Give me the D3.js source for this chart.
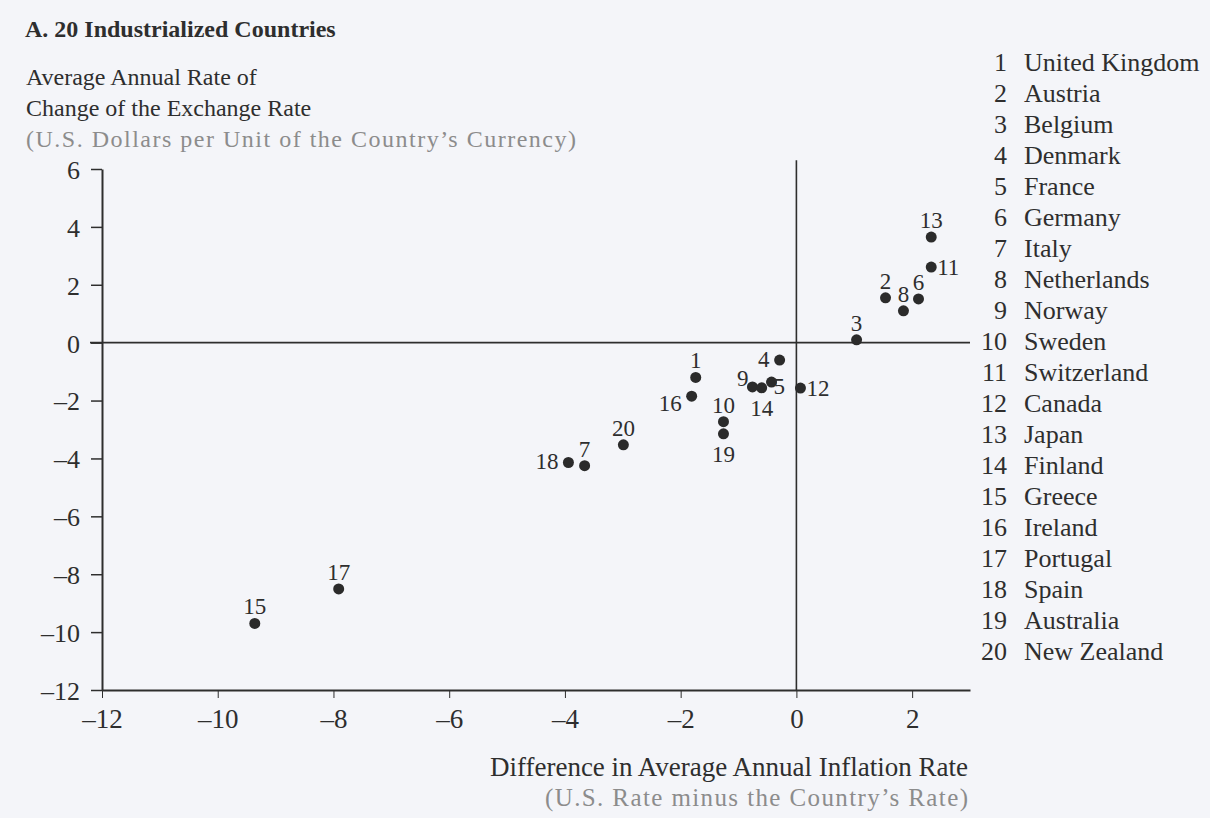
<!DOCTYPE html>
<html lang="en">
  <head>
    <meta charset="utf-8">
    <title>A. 20 Industrialized Countries</title>
    <!-- Load d3.js -->
    <script src="https://d3js.org/d3.v7.min.js"></script>
    <style>
    body {margin: 0; background: #f4f5f9;}
    svg text {font-family: "Liberation Serif", "Times New Roman", serif; fill: #2e2e2e;}
    .domain, .tick line {stroke: #2e2e2e;}
    </style>
  </head>
<body>

  <div id="my_dataviz"></div>

  <script>

  // ---------------------------//
  //      DATA                  //
  // ---------------------------//

  var ids = [1, 2, 3, 4, 5, 6, 7, 8, 9, 10, 11, 12, 13, 14, 15, 16, 17, 18, 19, 20];
  var countries = ["United Kingdom", "Austria", "Belgium", "Denmark", "France", "Germany", "Italy",
    "Netherlands", "Norway", "Sweden", "Switzerland", "Canada", "Japan", "Finland", "Greece",
    "Ireland", "Portugal", "Spain", "Australia", "New Zealand"];
  // difference in average annual inflation rate (x)
  var inflationDiff = [-1.74, 1.54, 1.04, -0.29, -0.43, 2.11, -3.66, 1.85, -0.76, -1.26,
    2.33, 0.07, 2.33, -0.60, -9.36, -1.81, -7.91, -3.94, -1.26, -2.99];
  // average annual rate of change of the exchange rate (y)
  var exchangeChange = [-1.20, 1.55, 0.10, -0.60, -1.36, 1.51, -4.25, 1.10, -1.53, -2.73,
    2.61, -1.57, 3.65, -1.56, -9.70, -1.85, -8.51, -4.14, -3.15, -3.53];
  // where the number sits next to its dot
  var labelSide = ["n", "n", "n", "w", "se", "n", "n", "n", "nw", "n",
    "e", "e", "n", "s", "n", "sw", "n", "w", "s", "n"];

  var xTicks = [-12, -10, -8, -6, -4, -2, 0, 2];
  var yTicks = [-12, -10, -8, -6, -4, -2, 0, 2, 4, 6];

  // label offsets for each side
  var sideOffset = {
    n:  {dx: 0,   dy: -9, anchor: "middle"},
    s:  {dx: 0,   dy: 28, anchor: "middle"},
    e:  {dx: 6,   dy: 8,  anchor: "start"},
    w:  {dx: -10, dy: 7,  anchor: "end"},
    se: {dx: 2,   dy: 12, anchor: "start"},
    sw: {dx: -10, dy: 15, anchor: "end"},
    nw: {dx: -4,  dy: -1, anchor: "end"}
  };

  var data = ids.map(function(id, i) {
    return {id: id, x: inflationDiff[i], y: exchangeChange[i], side: labelSide[i]};
  });

  // ---------------------------//
  //      SVG + SCALES          //
  // ---------------------------//

  var svg = d3.select("#my_dataviz")
    .append("svg")
      .attr("width", 1210)
      .attr("height", 818);

  var x = d3.scaleLinear()
    .domain([-12, 3])
    .range([102, 970]);

  var y = d3.scaleLinear()
    .domain([-12, 6])
    .range([690, 169]);

  var dash = function(d) { return String(d).replace("-", "\u2013"); };

  // X axis
  var xAxis = svg.append("g")
    .attr("transform", "translate(0," + y(-12) + ")")
    .call(d3.axisBottom(x).tickValues(xTicks).tickSizeInner(8).tickSizeOuter(0).tickPadding(11).tickFormat(dash));
  xAxis.select(".domain").attr("stroke-width", 2);
  xAxis.selectAll(".tick text").style("font-size", "27px");

  // Y axis
  var yAxis = svg.append("g")
    .attr("transform", "translate(" + x(-12) + ",0)")
    .call(d3.axisLeft(y).tickValues(yTicks).tickSizeInner(11).tickSizeOuter(0).tickPadding(11).tickFormat(dash));
  yAxis.select(".domain").attr("stroke-width", 2);
  yAxis.selectAll(".tick line").attr("stroke-width", 1.5);
  yAxis.selectAll(".tick text").style("font-size", "26px").attr("dy", "0.36em");

  // zero lines
  svg.append("line")
    .attr("x1", x(-12) - 12).attr("x2", x(3))
    .attr("y1", y(0)).attr("y2", y(0))
    .attr("stroke", "#2e2e2e").attr("stroke-width", 1.6);
  svg.append("line")
    .attr("x1", x(0)).attr("x2", x(0))
    .attr("y1", y(6.3)).attr("y2", y(-12))
    .attr("stroke", "#2e2e2e").attr("stroke-width", 1.6);

  // ---------------------------//
  //      POINTS + LABELS       //
  // ---------------------------//

  svg.selectAll("circle")
    .data(data)
    .enter()
    .append("circle")
      .attr("cx", function(d) { return x(d.x); })
      .attr("cy", function(d) { return y(d.y); })
      .attr("r", 5.5)
      .attr("fill", "#2b2b2b");

  svg.selectAll(".ptlabel")
    .data(data)
    .enter()
    .append("text")
      .attr("class", "ptlabel")
      .attr("x", function(d) { return x(d.x) + sideOffset[d.side].dx; })
      .attr("y", function(d) { return y(d.y) + sideOffset[d.side].dy; })
      .attr("text-anchor", function(d) { return sideOffset[d.side].anchor; })
      .style("font-size", "23px")
      .text(function(d) { return d.id; });

  // ---------------------------//
  //      TITLES                //
  // ---------------------------//

  svg.append("text")
    .attr("x", 25).attr("y", 37)
    .style("font-size", "24px").style("font-weight", "bold")
    .text("A. 20 Industrialized Countries");

  svg.append("text").attr("x", 26).attr("y", 85)
    .style("font-size", "24px")
    .text("Average Annual Rate of");
  svg.append("text").attr("x", 26).attr("y", 116)
    .style("font-size", "24px")
    .text("Change of the Exchange Rate");
  svg.append("text").attr("x", 26).attr("y", 147)
    .attr("textLength", 550).attr("lengthAdjust", "spacing")
    .style("font-size", "24px").style("fill", "#8c8c8c")
    .text("(U.S. Dollars per Unit of the Country\u2019s Currency)");

  svg.append("text").attr("x", 968).attr("y", 776)
    .attr("text-anchor", "end")
    .style("font-size", "27px")
    .text("Difference in Average Annual Inflation Rate");
  svg.append("text").attr("x", 545).attr("y", 806)
    .attr("textLength", 423).attr("lengthAdjust", "spacing")
    .style("font-size", "25px").style("fill", "#8c8c8c")
    .text("(U.S. Rate minus the Country\u2019s Rate)");

  // ---------------------------//
  //      LEGEND                //
  // ---------------------------//

  var legend = svg.selectAll(".legrow")
    .data(ids)
    .enter()
    .append("g")
      .attr("class", "legrow")
      .attr("transform", function(d, i) { return "translate(0," + (71 + i * 31) + ")"; });

  legend.append("text")
    .attr("x", 1007)
    .attr("text-anchor", "end")
    .style("font-size", "26px")
    .text(function(d) { return d; });

  legend.append("text")
    .attr("x", 1024)
    .style("font-size", "26px")
    .text(function(d, i) { return countries[i]; });

  </script>
</body>
</html>
